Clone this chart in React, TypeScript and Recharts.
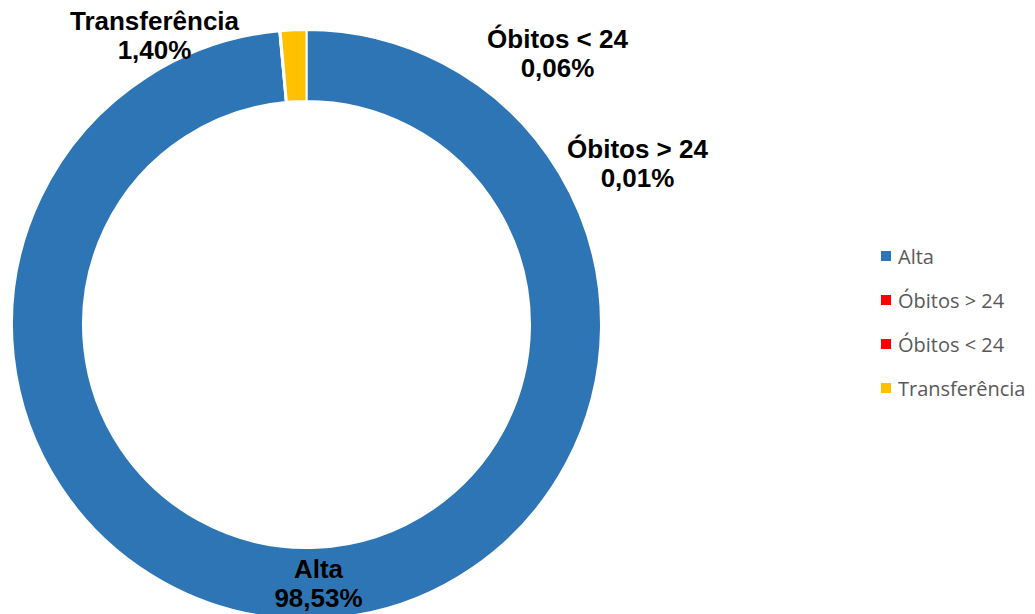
import { PieChart, Pie, Cell, Legend } from "recharts";

const CATEGORIES = ["Alta", "Óbitos > 24", "Óbitos < 24", "Transferência"];
const VALUES = [98.53, 0.01, 0.06, 1.4];
const LABELS = ["98,53%", "0,01%", "0,06%", "1,40%"];

const COLORS = ["#2E75B6", "#FF0000", "#FF0000", "#FFC000"];

// label placement relative to the pie centre (first-line baseline)
const LABEL_OFFSETS: Record<string, { dx: number; dy: number }> = {
  Alta: { dx: 12, dy: 253 },
  "Óbitos > 24": { dx: 331, dy: -167 },
  "Óbitos < 24": { dx: 251, dy: -277 },
  Transferência: { dx: -152, dy: -295 },
};

const data = CATEGORIES.map((name, i) => ({
  name,
  value: VALUES[i],
  label: LABELS[i],
}));

const renderLabel = (props: any) => {
  const { cx, cy, index } = props;
  const name = CATEGORIES[index];
  const off = LABEL_OFFSETS[name];
  const x = cx + off.dx;
  const y = cy + off.dy;
  return (
    <text
      x={x}
      y={y}
      textAnchor="middle"
      fill="#000"
      style={{ fontFamily: "'Liberation Sans', Arial, sans-serif", fontWeight: 700, fontSize: 26 }}
    >
      <tspan x={x} y={y}>
        {name}
      </tspan>
      <tspan x={x} y={y + 29}>
        {LABELS[index]}
      </tspan>
    </text>
  );
};

// keep the legend in data order (recharts sorts it by name otherwise)
const renderLegend = () => (
  <div style={{ fontFamily: "'Open Sans', sans-serif", fontSize: 20, color: "#595959" }}>
    {CATEGORIES.map((name, i) => (
      <div key={name} style={{ display: "flex", alignItems: "center", height: 44 }}>
        <span
          style={{
            display: "inline-block",
            width: 10,
            height: 10,
            background: COLORS[i],
            marginRight: 7,
          }}
        />
        <span>{name}</span>
      </div>
    ))}
  </div>
);

export default function App() {
  return (
    <PieChart width={1027} height={606} margin={{ top: 0, right: 0, bottom: 0, left: 0 }}>
      <Pie
        data={data}
        dataKey="value"
        nameKey="name"
        cx={298.5}
        cy={316.5}
        innerRadius={223.5}
        outerRadius={294.5}
        startAngle={90}
        endAngle={-270}
        stroke="#fff"
        strokeWidth={2}
        label={renderLabel}
        labelLine={false}
        isAnimationActive={false}
      >
        {data.map((_d, i) => (
          <Cell key={i} fill={COLORS[i]} />
        ))}
      </Pie>
      <Legend
        layout="vertical"
        align="right"
        verticalAlign="middle"
        content={renderLegend}
        wrapperStyle={{ left: 873, top: 226, width: 160 }}
      />
    </PieChart>
  );
}
